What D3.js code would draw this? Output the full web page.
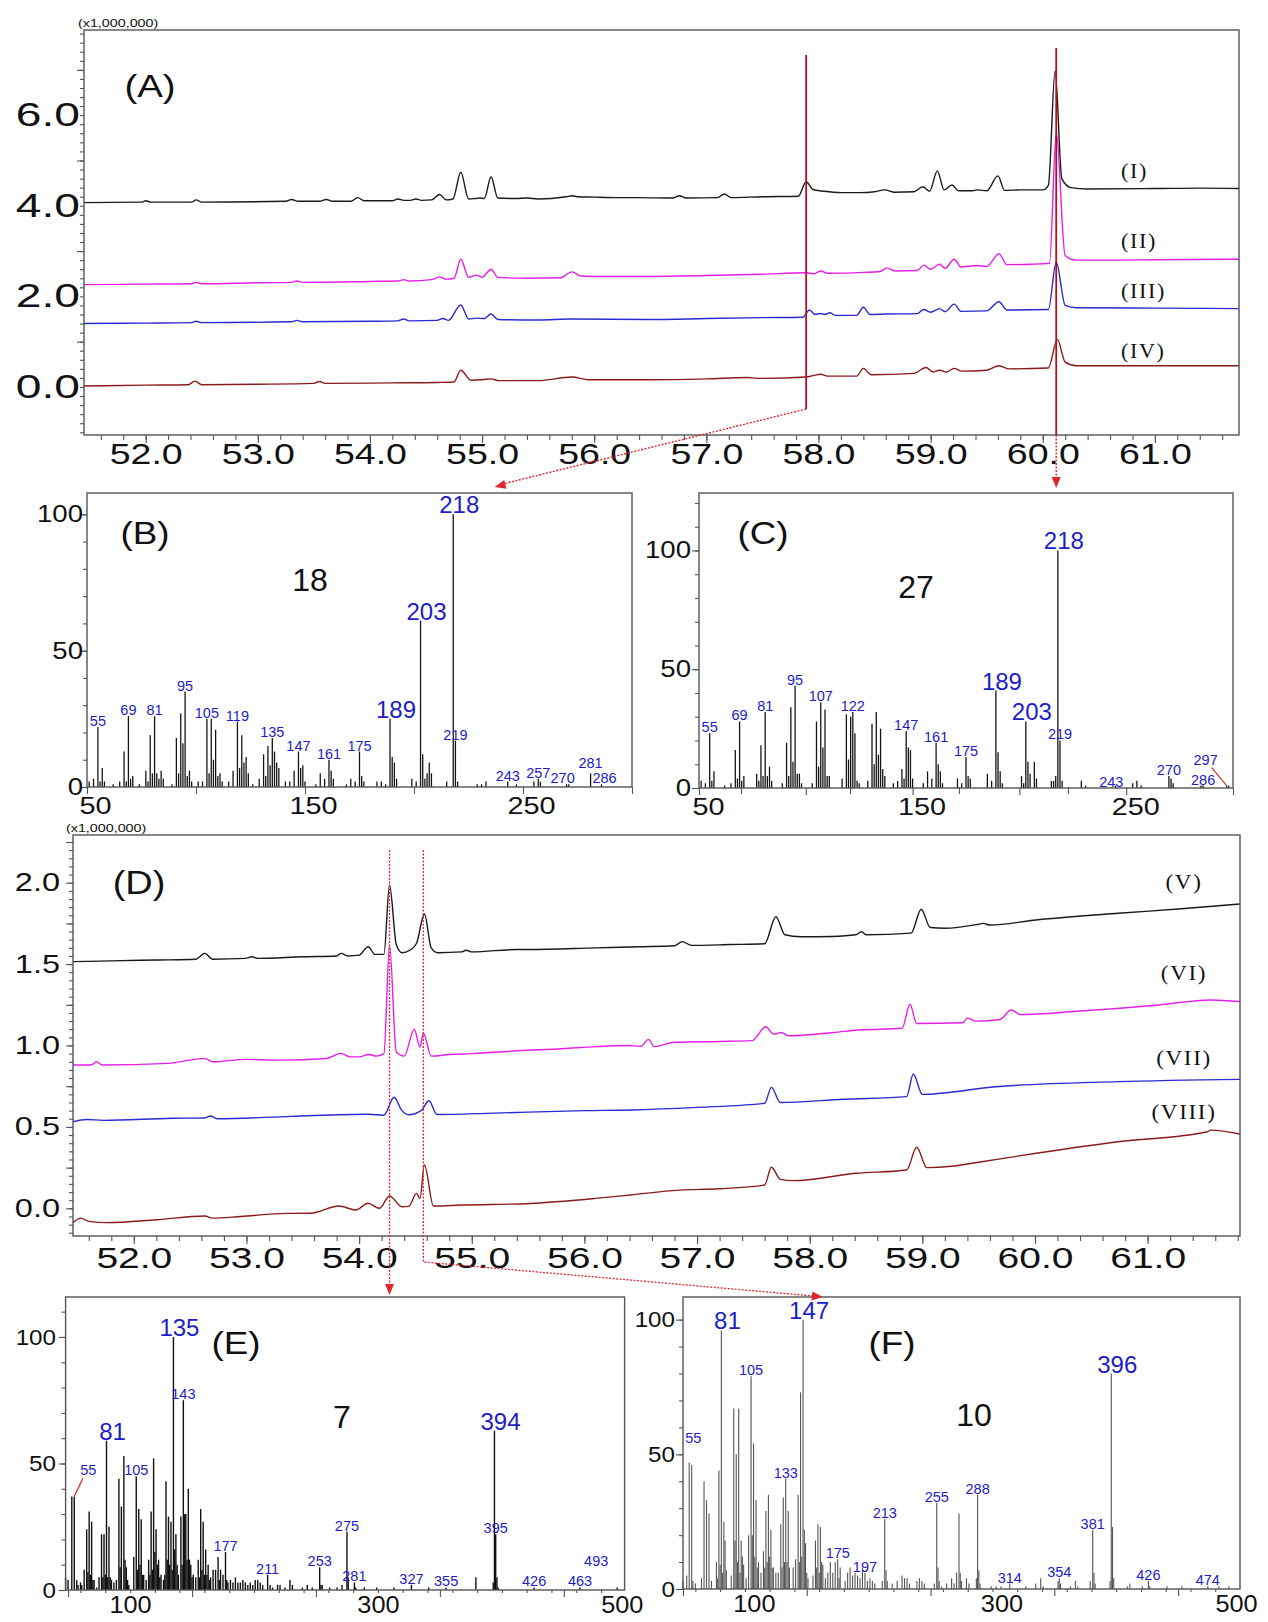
<!DOCTYPE html>
<html><head><meta charset="utf-8">
<script src="https://cdn.jsdelivr.net/npm/d3@7"></script>
<style>
body{margin:0;background:#fff;}
svg{display:block;font-family:"Liberation Sans",Arial,sans-serif;}
</style></head><body>
<svg id="chart" width="1268" height="1622"></svg>
<script>
// ---------------- DATA ----------------
// Panel A chromatograms: [time (min), intensity (x1,000,000)]
const traceI = [[51.45,4.07],[51.97,4.08],[52.0,4.11],[52.05,4.08],[52.41,4.08],[52.45,4.13],[52.5,4.08],[53.25,4.1],[53.3,4.14],[53.36,4.1],[53.55,4.1],[53.61,4.14],[53.67,4.1],[53.83,4.1],[53.89,4.18],[53.95,4.11],[54.2,4.11],[54.25,4.15],[54.3,4.12],[54.36,4.12],[54.41,4.15],[54.46,4.12],[54.55,4.13],[54.62,4.25],[54.68,4.13],[54.74,4.15],[54.81,4.74],[54.88,4.15],[54.94,4.16],[54.98,4.17],[55.02,4.16],[55.08,4.64],[55.14,4.17],[55.3,4.16],[55.4,4.17],[55.5,4.15],[55.75,4.2],[55.8,4.22],[55.85,4.2],[56.0,4.19],[56.2,4.18],[56.4,4.18],[56.7,4.17],[56.76,4.22],[56.82,4.17],[57.1,4.18],[57.16,4.26],[57.22,4.18],[57.5,4.2],[57.82,4.21],[57.89,4.53],[57.95,4.36],[58.05,4.32],[58.2,4.29],[58.37,4.29],[58.5,4.31],[58.59,4.35],[58.68,4.3],[58.85,4.31],[58.93,4.42],[58.99,4.32],[59.06,4.77],[59.12,4.35],[59.19,4.46],[59.25,4.33],[59.37,4.33],[59.42,4.35],[59.5,4.33],[59.6,4.66],[59.66,4.34],[59.8,4.35],[60.0,4.35],[60.05,4.45],[60.11,6.98],[60.17,4.6],[60.25,4.4],[60.4,4.37],[61.0,4.38],[61.4,4.39],[61.75,4.38]];
const traceII = [[51.45,2.26],[52.0,2.27],[52.41,2.28],[52.45,2.31],[52.5,2.28],[53.0,2.3],[53.3,2.31],[53.35,2.34],[53.4,2.31],[54.0,2.33],[54.25,2.34],[54.3,2.37],[54.35,2.34],[54.55,2.37],[54.62,2.43],[54.68,2.38],[54.75,2.4],[54.81,2.82],[54.88,2.42],[54.95,2.47],[55.0,2.42],[55.08,2.6],[55.14,2.42],[55.4,2.4],[55.7,2.41],[55.8,2.54],[55.88,2.45],[56.0,2.44],[56.5,2.44],[57.0,2.46],[57.5,2.49],[57.89,2.52],[57.96,2.5],[58.02,2.56],[58.08,2.51],[58.4,2.53],[58.55,2.55],[58.61,2.63],[58.68,2.56],[58.88,2.57],[58.94,2.69],[59.0,2.6],[59.08,2.71],[59.13,2.62],[59.21,2.82],[59.27,2.65],[59.41,2.68],[59.5,2.66],[59.61,2.94],[59.68,2.7],[59.9,2.71],[60.06,2.73],[60.12,5.6],[60.2,2.9],[60.3,2.8],[60.6,2.8],[61.0,2.81],[61.75,2.82]];
const traceIII = [[51.45,1.4],[52.0,1.41],[52.41,1.42],[52.45,1.45],[52.5,1.42],[53.3,1.44],[53.35,1.47],[53.4,1.44],[54.0,1.45],[54.25,1.46],[54.3,1.5],[54.35,1.46],[54.6,1.47],[54.65,1.51],[54.7,1.47],[54.81,1.81],[54.88,1.5],[54.95,1.52],[55.02,1.51],[55.08,1.61],[55.14,1.49],[55.5,1.48],[55.8,1.5],[56.5,1.49],[57.0,1.51],[57.5,1.53],[57.86,1.54],[57.92,1.7],[57.97,1.6],[58.02,1.62],[58.06,1.6],[58.1,1.64],[58.15,1.58],[58.34,1.58],[58.4,1.76],[58.46,1.6],[58.6,1.61],[58.88,1.62],[58.94,1.71],[59.0,1.65],[59.08,1.73],[59.13,1.66],[59.21,1.83],[59.27,1.67],[59.5,1.68],[59.61,1.88],[59.68,1.7],[60.05,1.71],[60.12,2.76],[60.2,1.8],[60.3,1.75],[61.0,1.74],[61.75,1.73]];
const traceIV = [[51.45,0.02],[52.0,0.04],[52.38,0.05],[52.44,0.13],[52.5,0.05],[53.0,0.06],[53.5,0.08],[53.55,0.12],[53.6,0.08],[54.2,0.09],[54.6,0.1],[54.75,0.11],[54.81,0.37],[54.9,0.15],[55.0,0.16],[55.08,0.18],[55.15,0.14],[55.5,0.14],[55.8,0.22],[55.95,0.16],[56.5,0.16],[57.0,0.18],[57.37,0.21],[57.45,0.19],[57.89,0.22],[57.95,0.25],[58.02,0.28],[58.08,0.24],[58.34,0.24],[58.4,0.41],[58.47,0.27],[58.85,0.3],[58.96,0.43],[59.02,0.33],[59.08,0.37],[59.14,0.33],[59.21,0.41],[59.28,0.35],[59.5,0.37],[59.61,0.47],[59.7,0.4],[60.05,0.42],[60.13,1.05],[60.2,0.55],[60.3,0.47],[61.0,0.47],[61.75,0.47]];

// Panel D chromatograms
const traceV = [[51.46,1.515],[51.8,1.52],[52.2,1.525],[52.55,1.53],[52.63,1.566],[52.7,1.53],[52.99,1.535],[53.05,1.545],[53.1,1.535],[53.5,1.545],[53.8,1.55],[53.84,1.566],[53.9,1.55],[54.0,1.555],[54.08,1.607],[54.14,1.56],[54.22,1.56],[54.27,1.986],[54.33,1.62],[54.38,1.57],[54.45,1.585],[54.51,1.628],[54.58,1.808],[54.64,1.6],[54.7,1.57],[54.91,1.575],[54.95,1.585],[55.0,1.575],[55.41,1.59],[55.5,1.59],[56.1,1.6],[56.49,1.607],[56.8,1.613],[56.87,1.638],[56.95,1.615],[57.3,1.62],[57.6,1.625],[57.7,1.791],[57.78,1.68],[57.92,1.668],[58.2,1.67],[58.41,1.68],[58.46,1.699],[58.5,1.68],[58.9,1.69],[58.99,1.837],[59.07,1.725],[59.2,1.72],[59.5,1.745],[59.54,1.75],[59.6,1.74],[60.01,1.771],[60.74,1.812],[61.3,1.84],[61.82,1.869]];
const traceVI = [[51.46,0.88],[51.62,0.88],[51.67,0.9],[51.72,0.88],[52.3,0.89],[52.63,0.921],[52.7,0.9],[52.99,0.915],[53.3,0.91],[53.71,0.92],[53.84,0.952],[53.92,0.93],[54.0,0.93],[54.09,0.945],[54.15,0.935],[54.22,0.95],[54.27,1.617],[54.33,0.96],[54.4,0.935],[54.49,1.1],[54.54,0.99],[54.57,1.075],[54.64,0.935],[54.8,0.945],[55.0,0.95],[55.41,0.968],[55.8,0.98],[56.1,0.993],[56.39,1.0],[56.5,0.995],[56.57,1.038],[56.62,0.993],[56.8,1.02],[57.2,1.025],[57.49,1.03],[57.61,1.115],[57.68,1.07],[57.75,1.08],[57.81,1.06],[58.21,1.08],[58.43,1.095],[58.82,1.106],[58.89,1.253],[58.95,1.135],[59.36,1.14],[59.4,1.17],[59.47,1.15],[59.69,1.16],[59.79,1.218],[59.87,1.19],[60.37,1.21],[61.1,1.249],[61.56,1.28],[61.82,1.27]];
const traceVII = [[51.46,0.532],[51.58,0.546],[51.73,0.54],[52.34,0.553],[52.63,0.555],[52.68,0.567],[52.74,0.55],[53.4,0.565],[54.08,0.578],[54.22,0.572],[54.31,0.682],[54.38,0.6],[54.44,0.575],[54.55,0.6],[54.62,0.661],[54.69,0.576],[55.2,0.585],[56.0,0.6],[56.41,0.604],[57.0,0.62],[57.6,0.645],[57.66,0.743],[57.74,0.65],[58.3,0.67],[58.86,0.686],[58.92,0.825],[59.0,0.7],[59.65,0.747],[60.74,0.778],[61.82,0.792]];
const traceVIII = [[51.46,-0.088],[51.53,-0.06],[51.6,-0.08],[51.76,-0.088],[52.2,-0.07],[52.63,-0.047],[52.7,-0.06],[52.95,-0.05],[53.35,-0.031],[53.57,-0.03],[53.82,0.014],[53.97,-0.01],[54.08,0.031],[54.18,0.0],[54.27,0.076],[54.38,0.01],[54.44,0.012],[54.51,0.092],[54.54,0.06],[54.58,0.266],[54.66,0.014],[54.91,0.02],[55.52,0.03],[56.1,0.061],[56.41,0.082],[56.84,0.112],[57.2,0.12],[57.6,0.143],[57.66,0.252],[57.74,0.178],[57.85,0.17],[58.41,0.215],[58.86,0.235],[58.95,0.375],[59.04,0.25],[59.26,0.258],[59.47,0.28],[60.01,0.338],[60.74,0.409],[61.53,0.47],[61.56,0.48],[61.82,0.456]];

// time axis labels
const timeTicks = [52,53,54,55,56,57,58,59,60,61];
const yLabelsA = [0,2,4,6];
const yLabelsD = [0,0.5,1.0,1.5,2.0];
const markersA = [57.89, 60.12];   // retention times of spectra B and C
const markersD = [54.27, 54.57];   // retention times of spectra E and F

// Mass spectra: [m/z, relative intensity %]
const specB = [[51,2],[53,3],[55,22],[56,2],[57,7],[58,2],[62,1],[65,2],[67,13],[68,2],[69,26],[70,3],[71,4],[74,1],[77,6],[78,2],[79,19],[80,5],[81,26],[82,5],[83,3],[84,6],[85,3],[89,1],[91,18],[92,5],[93,27],[94,16],[95,35],[96,4],[97,6],[98,2],[101,2],[103,2],[105,25],[106,5],[107,25],[108,10],[109,21],[110,4],[111,5],[112,2],[115,2],[117,6],[119,24],[120,7],[121,19],[122,9],[123,11],[124,5],[126,1],[129,3],[131,12],[132,4],[133,15],[134,8],[135,18],[136,13],[137,9],[138,7],[141,2],[143,2],[145,6],[147,13],[148,7],[149,8],[150,2],[155,1],[157,5],[159,3],[161,10],[162,6],[163,3],[169,1],[171,3],[173,2],[175,13],[176,4],[177,2],[183,2],[185,2],[187,1],[189,25],[190,11],[191,9],[192,3],[199,3],[201,2],[203,61],[204,12],[205,3],[206,5],[207,9],[208,5],[215,2],[218,100],[219,17],[220,2],[229,1],[231,1],[233,2],[243,2],[247,1],[255,2],[257,3],[258,2],[270,1],[271,1],[281,5],[286,1]];
const specC = [[51,3],[53,2],[55,23],[56,3],[57,7],[62,1],[65,2],[67,16],[68,4],[69,28],[70,3],[71,5],[77,6],[78,3],[79,18],[80,5],[81,32],[82,5],[83,9],[84,3],[89,2],[91,19],[92,5],[93,34],[94,11],[95,43],[96,6],[97,6],[98,2],[103,2],[105,28],[106,9],[107,36],[108,17],[109,33],[110,5],[111,5],[117,4],[119,31],[120,12],[121,30],[122,32],[123,23],[124,3],[125,2],[129,3],[131,27],[132,10],[133,32],[134,14],[135,25],[136,8],[137,5],[141,2],[143,3],[145,8],[146,4],[147,24],[148,17],[149,16],[150,4],[155,2],[157,7],[159,4],[161,19],[162,10],[163,7],[164,2],[171,4],[173,2],[175,13],[176,5],[177,4],[185,6],[187,3],[189,41],[190,15],[191,7],[192,2],[201,5],[202,2],[203,28],[204,11],[205,6],[207,11],[208,4],[215,3],[216,3],[217,5],[218,100],[219,20],[220,3],[229,3],[231,1],[245,1],[253,2],[255,3],[257,1],[270,5],[271,4],[272,2],[285,1],[286,1],[297,1],[298,1]];
const specE = [[48,5],[50,4],[53,37],[55,37],[57,4],[58,2],[60,3],[61,2],[63,8],[65,24],[66,7],[67,31],[68,6],[69,27],[70,4],[71,4],[73,1],[75,5],[77,22],[78,5],[79,22],[80,6],[81,59],[82,5],[83,25],[84,5],[85,4],[87,3],[89,4],[91,44],[92,9],[93,33],[95,53],[96,12],[97,9],[98,4],[99,2],[103,13],[105,45],[106,8],[107,32],[108,10],[109,28],[110,6],[111,6],[113,4],[115,12],[116,6],[117,31],[118,8],[119,52],[120,15],[121,24],[122,10],[123,12],[124,5],[125,6],[127,4],[128,6],[129,43],[130,12],[131,29],[132,10],[133,27],[134,8],[135,100],[136,16],[137,22],[138,10],[139,6],[141,29],[142,10],[143,75],[144,30],[145,30],[146,12],[147,40],[148,12],[149,10],[150,5],[151,6],[153,5],[155,12],[156,5],[157,32],[158,8],[159,27],[160,6],[161,16],[162,6],[163,10],[164,4],[165,5],[167,8],[169,8],[171,13],[172,4],[173,8],[175,6],[177,15],[178,4],[179,3],[181,4],[183,3],[185,5],[187,3],[189,3],[191,4],[193,3],[195,2],[197,3],[199,2],[201,4],[203,4],[205,3],[207,2],[211,6],[213,2],[215,1],[219,2],[221,2],[225,1],[229,4],[231,2],[239,1],[243,2],[247,1],[253,9],[254,2],[255,2],[261,1],[267,1],[271,2],[275,23],[276,5],[281,3],[282,1],[289,1],[299,1],[313,1],[327,2],[341,1],[355,1],[379,5],[393,3],[394,63],[395,22],[396,5],[397,1],[426,1],[463,1],[493,1]];
const specF = [[50,3],[53,5],[55,47],[57,46],[58,3],[60,2],[65,4],[67,40],[69,33],[71,28],[73,3],[77,10],[78,4],[79,44],[80,9],[81,96],[82,6],[83,25],[84,18],[85,7],[89,5],[91,67],[92,18],[93,50],[94,10],[95,67],[96,6],[97,18],[98,12],[99,9],[101,4],[103,20],[105,79],[106,20],[107,54],[108,12],[109,33],[110,8],[111,10],[113,6],[115,14],[116,8],[117,29],[118,10],[119,35],[120,12],[121,22],[122,8],[123,8],[125,6],[127,6],[129,24],[130,8],[131,34],[132,10],[133,41],[134,10],[135,29],[136,8],[139,8],[141,11],[143,35],[144,10],[145,73],[146,12],[147,100],[148,22],[149,17],[150,6],[151,4],[155,5],[157,18],[158,8],[159,24],[160,6],[161,23],[162,10],[163,9],[165,4],[167,6],[169,10],[171,6],[173,10],[175,11],[176,4],[177,8],[181,3],[183,6],[185,8],[187,5],[189,6],[191,5],[193,4],[195,8],[197,6],[199,3],[201,4],[203,3],[205,2],[211,3],[213,26],[214,7],[215,3],[219,2],[223,3],[227,5],[229,4],[231,4],[233,2],[239,3],[241,4],[243,3],[245,2],[253,2],[255,32],[256,8],[257,3],[259,1],[263,2],[267,4],[269,2],[271,6],[273,28],[274,6],[275,3],[279,4],[281,2],[287,4],[288,35],[289,7],[290,2],[299,1],[303,1],[307,1],[314,2],[327,1],[335,2],[339,4],[341,1],[353,3],[354,4],[355,2],[363,1],[367,3],[369,1],[379,3],[381,22],[382,6],[383,2],[395,3],[396,80],[397,23],[398,4],[409,1],[411,2],[421,1],[426,3],[427,1],[441,1],[453,1],[474,1],[483,1],[491,1]];

// peak labels (m/z) and which are shown large
const labelsB = [55,69,81,95,105,119,135,147,161,175,189,203,218,219,243,257,270,281,286];
const bigB = [189,203,218];
const labelsC = [55,69,81,95,107,122,147,161,175,189,203,218,219,243,270,286,297];
const bigC = [189,203,218];
const labelsE = [55,81,105,135,143,177,211,253,275,281,327,355,394,395,426,463,493];
const bigE = [81,135,394];
const labelsF = [55,81,105,133,147,175,197,213,255,288,314,354,381,396,426,474];
const bigF = [81,147,396];
const specXTicksBC = [50,150,250];
const specXTicksEF = [100,300,500];
const specYTicks = [0,50,100];

const namesA = ["(I)","(II)","(III)","(IV)"];
const namesD = ["(V)","(VI)","(VII)","(VIII)"];
const compoundB = "18", compoundC = "27", compoundE = "7", compoundF = "10";

// ---------------- DRAWING ----------------
const svg = d3.select("#chart");
const C = {black:"#1a1a1a", mag:"#e61ee6", blue:"#2a2ad2", brown:"#8a1b1b",
  frame:"#555", lab:"#1d1dc8", red:"#b0121c", redDot:"#e2262f"};
const cols = [C.black, C.mag, C.blue, C.brown];

function box(g, x0, y0, x1, y1){
  g.append("rect").attr("x",x0).attr("y",y0).attr("width",x1-x0).attr("height",y1-y0)
   .attr("fill","none").attr("stroke",C.frame).attr("stroke-width",1.4);
}
function styleAxis(sel, color){
  sel.select(".domain").remove();
  sel.selectAll(".tick line").attr("stroke", color||C.frame).attr("stroke-width",1.1);
}
// text with optional horizontal stretch (the source figure is widened)
function text(g, x, y, s, size, opts={}){
  return g.append("text").attr("transform",`translate(${x},${y}) scale(${opts.sx||1},1)`).text(s)
    .attr("font-size",size).attr("text-anchor",opts.anchor||"middle")
    .attr("fill",opts.fill||"#111").attr("font-family",opts.family||null)
    .attr("dominant-baseline", opts.base||"central");
}
function arrowHead(g, x, y, ang){
  const a = ang*Math.PI/180, L=11, W=4.5;
  const p = [[x,y],[x-L*Math.cos(a)+W*Math.sin(a), y-L*Math.sin(a)-W*Math.cos(a)],
             [x-L*Math.cos(a)-W*Math.sin(a), y-L*Math.sin(a)+W*Math.cos(a)]];
  g.append("path").attr("d","M"+p.map(q=>q.join(",")).join("L")+"Z").attr("fill",C.redDot);
}

// ---------- chromatogram panel ----------
function chrom(cfg){
  const g = svg.append("g");
  const x = d3.scaleLinear().domain(cfg.xd).range([cfg.x0,cfg.x1]);
  const y = d3.scaleLinear().domain(cfg.yd).range([cfg.y1,cfg.y0]);
  const id = "clip"+cfg.name;
  svg.append("clipPath").attr("id",id).append("rect")
    .attr("x",cfg.x0).attr("y",cfg.y0).attr("width",cfg.x1-cfg.x0).attr("height",cfg.y1-cfg.y0);
  const minorX = d3.range(Math.ceil(cfg.xd[0]*5)/5, cfg.xd[1], 0.2);
  styleAxis(g.append("g").attr("transform",`translate(0,${cfg.y1})`)
    .call(d3.axisBottom(x).tickValues(minorX).tickSize(5).tickFormat("")));
  styleAxis(g.append("g").attr("transform",`translate(0,${cfg.y1})`)
    .call(d3.axisBottom(x).tickValues(timeTicks).tickSize(8).tickFormat("")));
  styleAxis(g.append("g").attr("transform",`translate(${cfg.x0},0)`)
    .call(d3.axisLeft(y).tickValues(cfg.minorY).tickSize(4).tickFormat("")));
  styleAxis(g.append("g").attr("transform",`translate(${cfg.x0},0)`)
    .call(d3.axisLeft(y).tickValues(cfg.majorY).tickSize(7).tickFormat("")));
  const ax = g.append("g").attr("transform",`translate(0,${cfg.y1})`)
    .call(d3.axisBottom(x).tickValues(timeTicks).tickSize(0).tickPadding(cfg.xPad).tickFormat(d3.format(".1f")));
  ax.select(".domain").remove();
  ax.selectAll("text").attr("font-size",cfg.xFont).attr("fill","#111").attr("font-family",null)
    .attr("transform",`scale(${cfg.xSx},1)`);
  const ay = g.append("g").attr("transform",`translate(${cfg.yLabX},0)`)
    .call(d3.axisLeft(y).tickValues(cfg.yLabels).tickSize(0).tickPadding(0).tickFormat(d3.format(".1f")));
  ay.select(".domain").remove();
  ay.selectAll("text").attr("font-size",cfg.yFont).attr("fill","#111").attr("font-family",null)
    .attr("transform",`scale(${cfg.ySx},1)`);
  const line = d3.line().x(d=>x(d[0])).y(d=>y(d[1])).curve(d3.curveMonotoneX);
  const tg = g.append("g").attr("clip-path",`url(#${id})`);
  cfg.traces.forEach((t,i)=>{
    tg.append("path").attr("d",line(t)).attr("fill","none").attr("stroke",cols[i])
      .attr("stroke-width",1.4).attr("stroke-linejoin","round");
  });
  box(g,cfg.x0,cfg.y0,cfg.x1,cfg.y1);
  return {g,x,y};
}

// Panel A
const A = chrom({name:"A", x0:84, x1:1239, y0:30, y1:435, xd:[51.45,61.75], yd:[-1.06,7.88],
  traces:[traceI,traceII,traceIII,traceIV], minorY:d3.range(-1,7.81,0.2), majorY:[1,3,5,7],
  yLabels:yLabelsA, yLabX:80, yFont:33, ySx:1.4, xFont:30, xSx:1.25, xPad:8});
text(A.g, 78, 23, "(x1,000,000)", 11, {anchor:"start", sx:1.3});
text(A.g, 150, 86, "(A)", 32, {sx:1.2});
namesA.forEach((n,i)=>{
  const yy = [171.7,241.7,291.7,351.7][i];
  text(A.g, 1121, yy, n, 20, {anchor:"start", family:"Liberation Serif", sx:1.1}).attr("letter-spacing",1.5);
});

// Panel D
const D = chrom({name:"D", x0:73, x1:1240, y0:835, y1:1236, xd:[51.46,61.82], yd:[-0.17,2.293],
  traces:[traceV,traceVI,traceVII,traceVIII], minorY:d3.range(-0.15,2.29,0.05), majorY:[0,0.25,0.5,0.75,1,1.25,1.5,1.75,2,2.25],
  yLabels:yLabelsD, yLabX:60, yFont:25, ySx:1.3, xFont:30, xSx:1.3, xPad:11});
text(D.g, 66, 828, "(x1,000,000)", 11, {anchor:"start", sx:1.3});
text(D.g, 139, 883, "(D)", 33, {sx:1.15});
namesD.forEach((n,i)=>{
  const yy = [881.7,973.3,1058.3,1111.7][i];
  text(D.g, 1184, yy, n, 21, {family:"Liberation Serif", sx:1.1}).attr("letter-spacing",1.5);
});

// ---------- spectrum panel ----------
function spectrum(cfg){
  const g = svg.append("g");
  const x = d3.scaleLinear().domain(cfg.xd).range([cfg.x0,cfg.x1]);
  const y = d3.scaleLinear().domain([0,cfg.ymax]).range([cfg.y1,cfg.y0]);
  styleAxis(g.append("g").attr("transform",`translate(0,${cfg.y1})`)
    .call(d3.axisBottom(x).tickValues(d3.range(cfg.xd[0]<=50?50:100, 501, cfg.xMajor)).tickSize(7).tickFormat("")));
  if(cfg.xMinor) styleAxis(g.append("g").attr("transform",`translate(0,${cfg.y1})`)
    .call(d3.axisBottom(x).tickValues(d3.range(60, cfg.xd[1], cfg.xMinor)).tickSize(3).tickFormat("")));
  styleAxis(g.append("g").attr("transform",`translate(${cfg.x0},0)`)
    .call(d3.axisLeft(y).tickValues(d3.range(0,cfg.ymax,10)).tickSize(4).tickFormat("")));
  styleAxis(g.append("g").attr("transform",`translate(${cfg.x0},0)`)
    .call(d3.axisLeft(y).tickValues(specYTicks).tickSize(7).tickFormat("")));
  const ax = g.append("g").attr("transform",`translate(0,${cfg.y1})`)
    .call(d3.axisBottom(x).tickValues(cfg.xTicks).tickSize(0).tickPadding(cfg.xPad).tickFormat(d3.format("d")));
  ax.select(".domain").remove();
  ax.selectAll("text").attr("font-size",cfg.font).attr("fill","#111").attr("font-family",null)
    .attr("transform",d=>`translate(${d>=500?-4:cfg.xLabDx},0) scale(${cfg.sx},1)`);
  const ay = g.append("g").attr("transform",`translate(${cfg.yLabX},0)`)
    .call(d3.axisLeft(y).tickValues(specYTicks).tickSize(0).tickPadding(0).tickFormat(d3.format("d")));
  ay.select(".domain").remove();
  ay.selectAll("text").attr("font-size",cfg.font-1).attr("fill","#111").attr("font-family",null)
    .attr("transform",`scale(${cfg.sx},1)`);
  g.append("g").selectAll("line").data(cfg.bars).join("line")
    .attr("x1",d=>x(d[0])).attr("x2",d=>x(d[0])).attr("y1",y(0)).attr("y2",d=>y(d[1]))
    .attr("stroke",cfg.barColor).attr("stroke-width",cfg.barW);
  box(g,cfg.x0,cfg.y0,cfg.x1,cfg.y1);
  const val = new Map(cfg.bars.map(d=>[d[0],d[1]]));
  cfg.labels.forEach(m=>{
    const big = cfg.big.includes(m);
    const off = (cfg.callout && cfg.callout[m]) || [0,0];
    const bx = x(m), by = y(val.get(m)||0);
    text(g, bx + (big?6:0) + off[0], by - 1 + off[1], String(m), big?24:14.5,
      {fill:C.lab, base:"alphabetic"});
    if(cfg.leader && cfg.leader.includes(m)){
      g.append("line").attr("x1",bx).attr("y1",by).attr("x2",bx+off[0]*0.9+(off[0]>0?-4:4)).attr("y2",by+off[1]+2)
        .attr("stroke","#e0302a").attr("stroke-width",1.2);
    }
  });
  text(g, cfg.tagPos[0], cfg.tagPos[1], cfg.tag, 32, {sx:1.15});
  text(g, cfg.cmpPos[0], cfg.cmpPos[1], cfg.cmp, 32);
  return {g,x,y};
}

const B = spectrum({x0:87, x1:632, y0:493, y1:787, xd:[50,300], ymax:107.8, bars:specB,
  barColor:"#151515", barW:1.3, xMajor:50, xTicks:specXTicksBC, xLabDx:8, xPad:10, yLabX:83, font:24, sx:1.2,
  labels:labelsB, big:bigB, tag:"(B)", tagPos:[145,533], cmp:compoundB, cmpPos:[310,580],
  callout:{270:[-4,0], 281:[0,-4], 286:[3,0]}});
const Cp = spectrum({x0:699, x1:1233, y0:493, y1:788, xd:[50,300], ymax:124.2, bars:specC,
  barColor:"#151515", barW:1.3, xMajor:50, xTicks:specXTicksBC, xLabDx:9, xPad:10, yLabX:691, font:24, sx:1.2,
  labels:labelsC, big:bigC, tag:"(C)", tagPos:[763,533], cmp:compoundC, cmpPos:[916,587],
  callout:{297:[-21,-20]}, leader:[297]});
const E = spectrum({x0:65.6, x1:624.6, y0:1297, y1:1590, xd:[48,499], ymax:115.8, bars:specE,
  barColor:"#111", barW:1.4, xMajor:100, xMinor:20, xTicks:specXTicksEF, xLabDx:0, xPad:7, yLabX:56, font:23, sx:1.1,
  labels:labelsE, big:bigE, tag:"(E)", tagPos:[236,1343], cmp:compoundE, cmpPos:[342,1417],
  callout:{55:[14,-20], 493:[-21,-20]}, leader:[55]});
const F = spectrum({x0:683, x1:1240, y0:1297, y1:1589, xd:[50,500], ymax:108.4, bars:specF,
  barColor:"#555", barW:1.1, xMajor:100, xMinor:20, xTicks:specXTicksEF, xLabDx:9, xPad:7, yLabX:675, font:23, sx:1.1,
  labels:labelsF, big:bigF, tag:"(F)", tagPos:[892,1343], cmp:compoundF, cmpPos:[974,1415],
  callout:{55:[4,-18]}});

// ---------- connectors ----------
const ov = svg.append("g");
markersA.forEach((t,i)=>{
  const xx = A.x(t);
  ov.append("line").attr("x1",xx).attr("x2",xx).attr("y1",i?48:55).attr("y2",i?435:409)
    .attr("stroke",C.red).attr("stroke-width",1.8);
});
{
  const x1 = A.x(markersA[0]), x2 = B.x(237);
  ov.append("line").attr("x1",x1).attr("y1",409).attr("x2",x2+8).attr("y2",B.y.range()[1]-9)
    .attr("stroke",C.redDot).attr("stroke-width",1.4).attr("stroke-dasharray","2,1.5");
  arrowHead(ov, x2, B.y.range()[1]-6, Math.atan2(409-(B.y.range()[1]-6), x1-x2)*180/Math.PI+180);
}
{
  const xx = A.x(markersA[1]);
  ov.append("line").attr("x1",xx).attr("x2",xx).attr("y1",435).attr("y2",478)
    .attr("stroke",C.redDot).attr("stroke-width",1.4).attr("stroke-dasharray","2,1.5");
  arrowHead(ov, xx, 488, 90);
}
{
  const x1 = D.x(markersD[0]), x2 = D.x(markersD[1]);
  ov.append("line").attr("x1",x1).attr("x2",x1).attr("y1",850).attr("y2",1285)
    .attr("stroke",C.redDot).attr("stroke-width",1.3).attr("stroke-dasharray","2,1.5");
  arrowHead(ov, x1, 1295, 90);
  ov.append("path").attr("d",`M${x2},850L${x2},1262L${F.x(163)-10},1296`)
    .attr("fill","none").attr("stroke",C.redDot).attr("stroke-width",1.3).attr("stroke-dasharray","2,1.5");
  arrowHead(ov, F.x(163), 1297, Math.atan2(1297-1262, F.x(163)-x2)*180/Math.PI);
}
</script>
</body></html>
